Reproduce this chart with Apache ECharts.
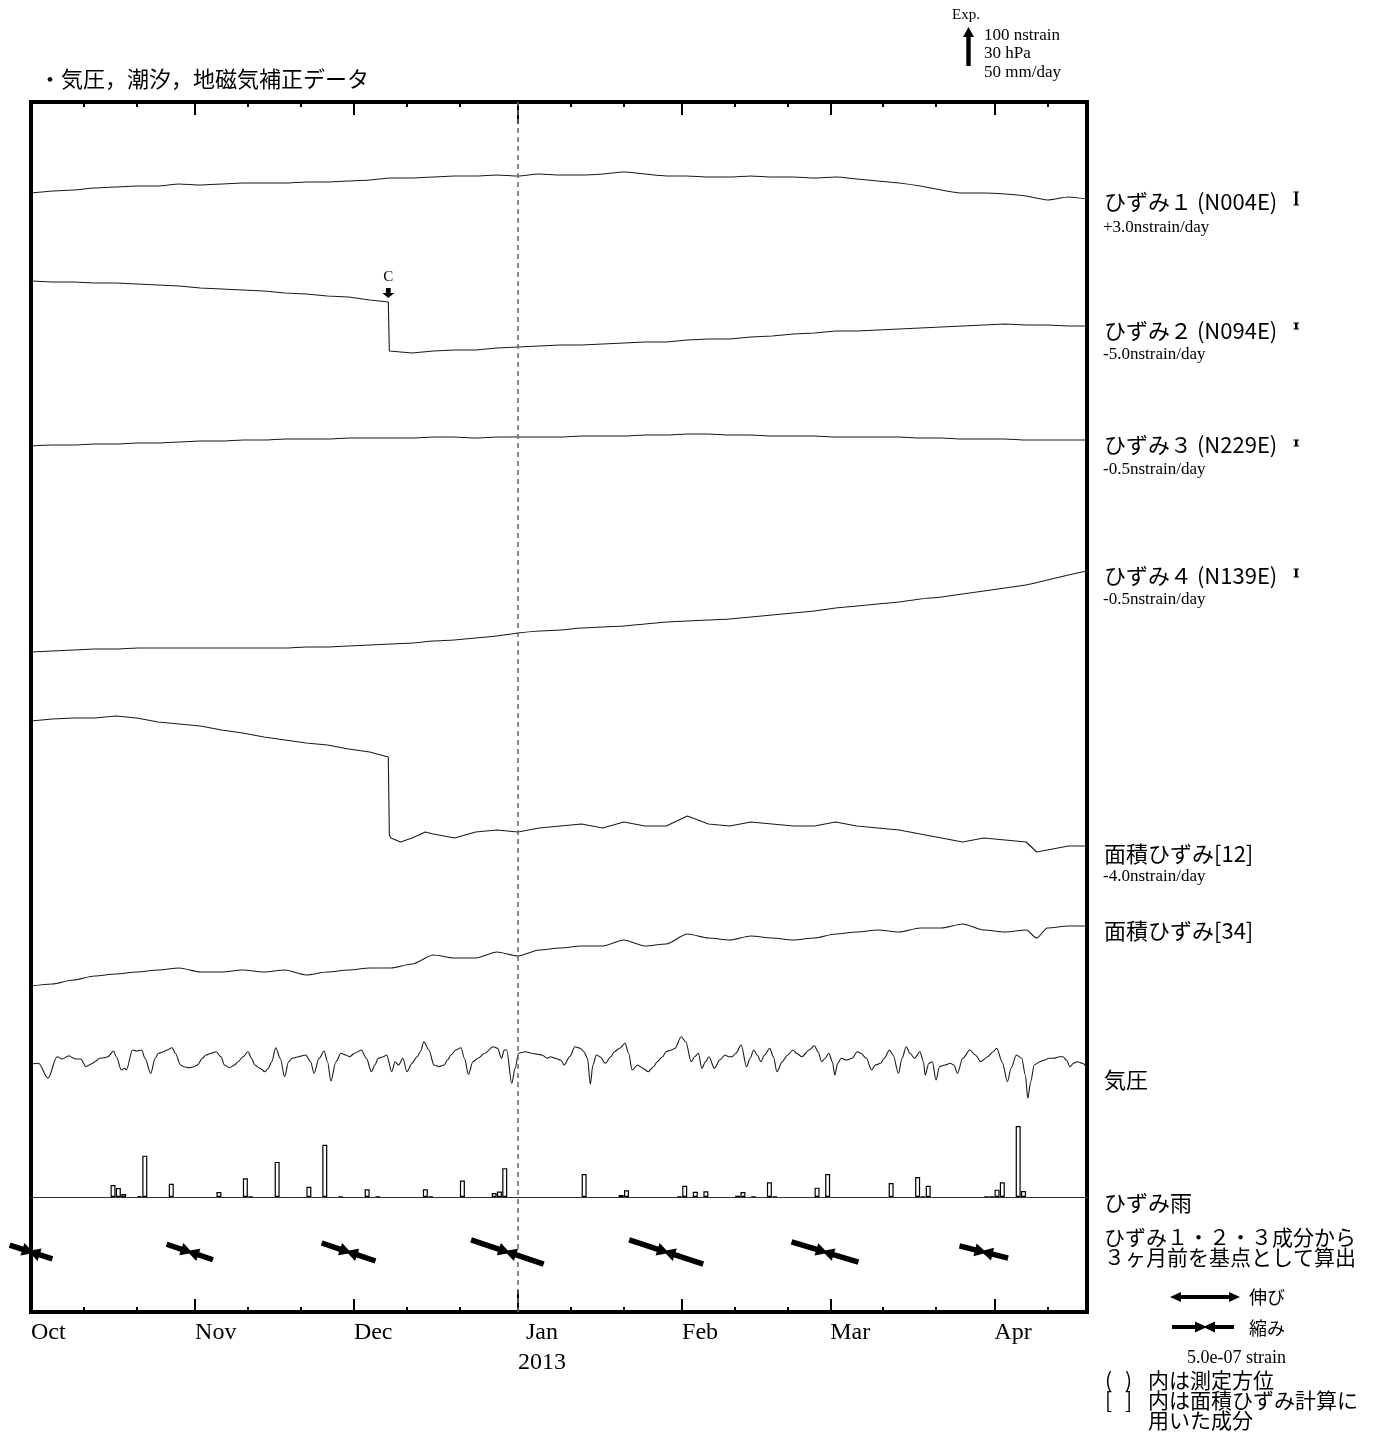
<!DOCTYPE html>
<html><head><meta charset="utf-8">
<script src="https://cdn.jsdelivr.net/npm/echarts@6/dist/echarts.min.js"></script>
<style>html,body{margin:0;padding:0;background:#fff}#c{width:1378px;height:1436px}</style>
</head><body><div id="c"></div>
<script>
// ---- axis definitions (day 0 = 2012-10-01) ----
const monthDays = [0, 31, 61, 92, 123, 151, 182];
const monthNames = ['Oct', 'Nov', 'Dec', 'Jan', 'Feb', 'Mar', 'Apr'];
const minorDays = [10, 20, 41, 51, 71, 81, 102, 112, 133, 143, 161, 171, 192];
const yearDays = [92];
const yearLabel = '2013';

// ---- strain traces: [day, relative level] ----
const strain1 = [[0,0],[4,2],[8,3],[12,5],[16,6],[20,7],[24,7],[28,9],[32,8],[36,9],[40,10],[44,10],[48,10],[52,11],[56,11],[60,12],[64,13],[68,15],[72,15],[76,16],[80,17],[84,17],[88,18],[92,17],[96,19],[100,18],[104,18],[108,19],[112,21],[116,19],[120,17],[124,17],[128,16],[132,16],[136,17],[140,16],[144,16],[148,15],[152,16],[156,14],[160,12],[164,10],[168,7],[172,3],[176,0],[180,0],[184,-1],[188,-3],[192,-7],[196,-4],[199.5,-6]];
const strain2 = [[0,0],[4,-1],[8,-1],[12,-2],[16,-2],[20,-3],[24,-4],[28,-5],[32,-7],[36,-8],[40,-9],[44,-10],[48,-12],[52,-13],[56,-15],[60,-16],[64,-19],[67.5,-21],[67.7,-70],[68,-72],[72,-72],[76,-70],[80,-69],[84,-69],[88,-67],[92,-66],[96,-65],[100,-64],[104,-64],[108,-63],[112,-62],[116,-61],[120,-61],[124,-59],[128,-58],[132,-58],[136,-56],[140,-55],[144,-53],[148,-52],[152,-50],[156,-50],[160,-49],[164,-48],[168,-47],[172,-46],[176,-45],[180,-44],[184,-43],[188,-44],[192,-44],[196,-45],[199.5,-45]];
const strain3 = [[0,0],[4,1],[8,1],[12,2],[16,2],[20,3],[24,3],[28,4],[32,5],[36,5],[40,6],[44,6],[48,7],[52,7],[56,7],[60,8],[64,8],[68,8],[72,8],[76,9],[80,9],[84,8],[88,9],[92,9],[96,9],[100,9],[104,10],[108,10],[112,10],[116,11],[120,11],[124,12],[128,12],[132,11],[136,11],[140,10],[144,10],[148,10],[152,9],[156,9],[160,9],[164,9],[168,8],[172,8],[176,7],[180,7],[184,7],[188,6],[192,6],[196,6],[199.5,6]];
const strain4 = [[0,0],[4,1],[8,2],[12,3],[16,3],[20,4],[24,4],[28,4],[32,4],[36,4],[40,4],[44,4],[48,4],[52,5],[56,5],[60,6],[64,7],[68,8],[72,9],[76,11],[80,12],[84,14],[88,16],[92,19],[96,21],[100,22],[104,24],[108,25],[112,26],[116,28],[120,30],[124,31],[128,32],[132,33],[136,35],[140,37],[144,39],[148,41],[152,44],[156,46],[160,48],[164,50],[168,53],[172,55],[176,58],[180,61],[184,64],[188,67],[192,72],[196,77],[199.5,81]];
const areal12 = [[0,0],[4,2],[8,3],[12,3],[16,5],[20,3],[24,-1],[28,-3],[32,-5],[36,-9],[40,-12],[44,-16],[48,-19],[52,-22],[56,-24],[60,-28],[64,-31],[67.5,-36],[67.7,-114],[68,-117],[69.8,-121],[72,-117],[74.5,-111],[76,-113],[80,-117],[84,-111],[88,-109],[92,-111],[96,-107],[100,-105],[104,-103],[108,-107],[112,-101],[116,-105],[120,-105],[124,-95],[128,-103],[132,-105],[136,-101],[140,-103],[144,-105],[148,-105],[152,-101],[156,-105],[160,-107],[164,-109],[168,-113],[172,-117],[176,-121],[180,-117],[184,-119],[188,-121],[190,-131],[192,-129],[196,-125],[199.5,-125]];
const areal34 = [[0,0],[4,2],[8,6],[12,10],[16,12],[20,14],[24,16],[28,18],[32,14],[36,14],[40,16],[44,14],[48,16],[52,11],[56,14],[60,16],[64,18],[68,18],[72,22],[76,31],[80,28],[84,28],[88,34],[92,30],[96,36],[100,38],[104,40],[108,40],[112,46],[116,40],[120,42],[124,52],[128,48],[132,46],[136,50],[140,48],[144,46],[148,48],[152,52],[156,54],[160,56],[164,54],[168,58],[172,58],[176,62],[180,56],[184,54],[188,56],[190,48],[192,58],[196,60],[199.5,60]];

// ---- air pressure: [day, relative level] ----
const pressure = [[0,-5],[1.42,-4.3],[3.21,-19.3],[4.93,2.3],[5.89,0],[7.17,3.3],[7.81,1.3],[8.44,0],[9.4,0],[10.36,-7.7],[11,-6],[11.64,-4.3],[12.27,-2],[12.91,0.7],[13.87,1.3],[14.51,2.3],[15.6,8],[16.11,2.3],[17.07,-11],[17.7,-9.3],[18.02,-11],[19.17,9],[19.94,8],[20.9,9],[21.54,0.7],[22.62,-14.3],[23.45,0.7],[24.09,5.7],[25.05,7.3],[25.69,9],[26.64,11.3],[27.28,5.7],[28.24,-6],[28.88,-7.7],[29.84,-8.7],[30.8,-7.7],[31.43,-6],[32.39,0.7],[33.03,4],[33.99,5.7],[34.94,7.3],[35.9,2.3],[36.54,-6],[37.5,-8.7],[38.46,-6],[39.1,-2.7],[40.05,2.3],[41.01,7.3],[41.65,0.7],[42.29,-6],[43.25,-9.3],[44.2,-12.7],[44.84,-9.3],[45.48,-2.7],[46.25,11.3],[47.08,0.7],[47.91,-17.7],[48.67,-2.7],[49.31,0.7],[50.59,2.3],[51.87,4],[52.83,-2.7],[53.46,-14.3],[54.42,0.7],[55.38,8],[56.02,-2.7],[56.66,-22],[57.61,-2.7],[58.57,5.7],[59.53,4],[60.17,2.3],[61.13,5.7],[62.4,9],[63.36,0.7],[64.32,-12.7],[64.96,-6],[65.6,0.7],[66.55,2.3],[67.19,4],[68.15,-12.7],[68.79,-2.7],[69.43,-6],[70.26,0.7],[71.02,-12.7],[71.98,-4.3],[72.94,2.3],[73.58,7.3],[74.22,17.3],[75.17,9],[76.13,-6],[77.09,-7.7],[78.05,-6],[78.69,-1],[79.33,4],[80.28,9],[81.24,11.3],[81.88,0.7],[82.65,-15.3],[83.48,-2.7],[84.43,0.7],[85.71,5.7],[87.31,12.3],[88.14,10.7],[88.9,0.7],[89.41,9],[89.86,9],[90.82,-24.3],[91.46,-9.3],[92.1,5.7],[93.37,7.3],[94.65,5.7],[95.61,4.7],[96.57,4],[97.52,0.7],[98.16,2.3],[99.06,0.7],[100.07,-1],[100.74,-6],[101.76,2.3],[102.77,12.3],[103.78,10.7],[104.46,7.3],[105.13,0.7],[105.67,-25.3],[106.15,-6],[106.82,4],[107.5,2.3],[108.51,-4.3],[109.52,2.3],[110.2,7.3],[111.21,10.7],[112.22,15.7],[112.9,5.7],[113.57,-11],[114.59,-6],[115.6,-9.3],[116.61,-12.7],[117.62,-7.7],[118.3,-2.7],[119.31,2.3],[119.99,7.3],[121,9],[121.68,10.7],[122.83,22.3],[123.7,17.3],[124.72,-2.7],[125.39,2.3],[126.07,5.7],[126.74,-9.3],[127.42,-2.7],[128.09,2.3],[129.1,-9.3],[130.12,-1],[131.13,4],[131.8,2.3],[132.48,2.3],[133.15,5.7],[134.17,14],[135.18,-7.7],[135.86,0.7],[136.53,9],[137.21,4],[137.88,-2.7],[138.56,4],[139.57,10.7],[140.25,2.3],[140.92,-12.7],[141.93,-2.7],[142.95,4],[143.96,9],[144.63,5.7],[145.65,2.3],[146.99,9],[148,13.3],[148.69,7.3],[149.36,-2.7],[150.04,0.7],[150.71,5.7],[151.39,-2.7],[151.86,-16],[152.4,-4.3],[153.07,0.7],[154.09,-1],[155.1,0.7],[156.11,7.3],[156.79,5.7],[157.8,0.7],[158.81,-11],[159.49,-6],[160.5,-4.3],[161.18,0.7],[162.19,9],[162.86,4],[163.88,-14.3],[164.55,0.7],[165.36,12.3],[166.04,5.7],[166.92,0.7],[167.93,7.3],[168.6,-2.7],[168.94,-16],[169.62,-4.3],[170.29,-2.7],[170.97,-21],[171.64,-7.7],[172.66,-6],[173.67,-4.3],[174.35,-6],[175.02,-14.3],[176.03,0.7],[177.38,9],[178.4,4],[179.41,-2.7],[180.76,2.3],[181.77,7.3],[182.45,10.7],[183.46,-2.7],[184.47,-22.7],[185.15,-9.3],[186.16,4],[187.17,0.7],[187.85,-16],[188.32,-39.3],[188.86,-22.7],[189.53,-6],[190.55,-2.7],[191.56,-1],[192.24,0.7],[193.25,0.7],[194.26,2.3],[194.94,2.3],[195.61,-1],[196.29,-7.7],[196.96,-4.3],[197.64,-2.7],[198.65,-4.3],[199.5,-9.3]];

// ---- daily rainfall (mm/day) ----
const rainDays = [15,16,17,20,21,26,35,40,41,46,52,55,58,63,65,74,75,81,87,88,89,104,111,112,122,123,125,127,133,134,136,139,140,148,150,162,167,168,169,180,181,182,183,186,187];
const rainMM   = [15.4,11.5,3.8,1.3,53,17,6.4,24,0.6,45,13,67,0.6,10,0.6,10,0.6,21,5,7,37,29.5,2.6,8.5,0.6,14.5,6.8,7.3,1.7,6.4,0.6,18.8,0.6,12,29.5,18,25.6,0.6,14.5,0.6,0.6,9.4,18.8,91,7.7];

// ---- principal strain arrows (every 30 days from 2012-10-01) ----
const arrowDays = [0, 30, 60, 90, 120, 150, 180];
const arrowStrain = [3.4, 3.7, 4.3, 5.8, 5.9, 5.3, 3.8];       // x 1e-7 (compression)
const arrowAzimuth = [108, 108.5, 108.5, 108.5, 108, 107, 104]; // degrees from N

// ---- layout / style constants ----
const XMAX = 199.5;
const G = { left: 31, top: 102, width: 1056, height: 1210 };
const LEVEL = { s1: 1119, s2: 1031, s3: 866, s4: 660, a12: 591, a34: 326, p: 253, arrows: 60 };
const PX_PER_STRAIN = 13.2; // px per 1e-7 strain (legend: 5.0e-07 = 66px)
const JP = '"Noto Sans CJK JP", "Noto Sans", sans-serif';
const SERIF = '"Liberation Serif", "Times New Roman", serif';

const shift = (arr, off) => arr.map(p => [p[0], p[1] + off]);

function tickAxis(pos, values, len, label) {
  return {
    type: 'value', gridIndex: 0, min: 0, max: XMAX, position: pos,
    axisLine: { show: false }, splitLine: { show: false },
    axisTick: { show: true, inside: true, length: len, customValues: values, lineStyle: { color: '#000', width: 2 } },
    axisLabel: label || { show: false }
  };
}
const monthLabel = {
  show: true, customValues: monthDays, showMinLabel: true, showMaxLabel: true,
  margin: 6, align: 'left', color: '#000', fontFamily: SERIF, fontSize: 24, lineHeight: 30,
  formatter: v => {
    const i = monthDays.indexOf(v);
    if (i < 0) return '';
    if (yearDays.indexOf(v) >= 0) return '{c|' + monthNames[i] + '}\n{c|' + yearLabel + '}';
    return monthNames[i];
  },
  rich: { c: { align: 'center', fontFamily: SERIF, fontSize: 24, lineHeight: 30, color: '#000' } }
};
const monthTickDays = monthDays.filter(d => d > 0 && yearDays.indexOf(d) < 0);

const lineStyle = { color: '#1a1a1a', width: 1.1 };
function trace(name, arr, off, extra) {
  return Object.assign({
    name, type: 'line', xAxisIndex: 0, yAxisIndex: 0, data: shift(arr, off),
    showSymbol: false, symbol: 'none', lineStyle, silent: true, animation: false, z: 3
  }, extra || {});
}

// find step point of strain2 for the "C" marker
let stepIdx = 0, maxDrop = 0;
for (let i = 1; i < strain2.length; i++) {
  const d = strain2[i - 1][1] - strain2[i][1];
  if (d > maxDrop) { maxDrop = d; stepIdx = i - 1; }
}

const series = [
  trace('ひずみ1', strain1, LEVEL.s1, {
    smooth: 0.2,
    markLine: {
      silent: true, symbol: ['none', 'none'], label: { show: false }, animation: false,
      lineStyle: { type: [5, 4], color: '#666', width: 1.5 },
      data: yearDays.map(d => ({ xAxis: d }))
    }
  }),
  trace('ひずみ2', strain2, LEVEL.s2, {
    markPoint: {
      silent: true, animation: false,
      data: [{
        coord: [strain2[stepIdx][0], strain2[stepIdx][1] + LEVEL.s2],
        symbol: 'path://M3,0 L7,0 L7,5 L10,5 L5,10 L0,5 L3,5 Z', symbolSize: [12, 10], symbolOffset: [0, -9],
        itemStyle: { color: '#000' },
        label: { show: true, formatter: 'C', position: 'top', distance: 3, color: '#000', fontFamily: SERIF, fontSize: 15 }
      }]
    }
  }),
  trace('ひずみ3', strain3, LEVEL.s3, { smooth: 0.2 }),
  trace('ひずみ4', strain4, LEVEL.s4, { smooth: 0.2 }),
  trace('面積ひずみ[12]', areal12, LEVEL.a12),
  trace('面積ひずみ[34]', areal34, LEVEL.a34, { smooth: 0.25, smoothMonotone: 'x' }),
  trace('気圧', pressure, LEVEL.p, { smooth: 0.3, smoothMonotone: 'x' }),
  {
    name: '雨', type: 'bar', xAxisIndex: 6, yAxisIndex: 1, barWidth: 5, silent: true, animation: false,
    data: rainDays.map((d, i) => [d + 0.5, rainMM[i]]),
    itemStyle: { color: '#fff', borderColor: '#000', borderWidth: 1.2 }
  },
  {
    name: 'arrows', type: 'custom', xAxisIndex: 0, yAxisIndex: 0, silent: true, animation: false, clip: false, z: 5,
    data: arrowDays.map((d, i) => [d, arrowStrain[i], arrowAzimuth[i]]),
    encode: { x: 0 },
    renderItem: (params, api) => {
      const c = api.coord([api.value(0), LEVEL.arrows]);
      const len = api.value(1) * PX_PER_STRAIN;
      const az = api.value(2) * Math.PI / 180;
      const ux = Math.sin(az), uy = -Math.cos(az);
      const nx = -uy, ny = ux;
      const h = len / 2, over = 3, hl = 12, hw = 6.5;
      const p1 = [c[0] - ux * h, c[1] - uy * h], p2 = [c[0] + ux * h, c[1] + uy * h];
      const t1 = [c[0] + ux * over, c[1] + uy * over], b1 = [t1[0] - ux * hl, t1[1] - uy * hl];
      const t2 = [c[0] - ux * over, c[1] - uy * over], b2 = [t2[0] + ux * hl, t2[1] + uy * hl];
      const st = { stroke: '#000', lineWidth: 5.5 };
      return {
        type: 'group', children: [
          { type: 'line', shape: { x1: p1[0], y1: p1[1], x2: b1[0] + ux * 2, y2: b1[1] + uy * 2 }, style: st },
          { type: 'line', shape: { x1: p2[0], y1: p2[1], x2: b2[0] - ux * 2, y2: b2[1] - uy * 2 }, style: st },
          { type: 'polygon', shape: { points: [t1, [b1[0] + nx * hw, b1[1] + ny * hw], [b1[0] - nx * hw, b1[1] - ny * hw]] }, style: { fill: '#000' } },
          { type: 'polygon', shape: { points: [t2, [b2[0] + nx * hw, b2[1] + ny * hw], [b2[0] - nx * hw, b2[1] - ny * hw]] }, style: { fill: '#000' } }
        ]
      };
    }
  }
];

// ---- text / legend decorations ----
function txt(text, x, y, font, align) {
  return { type: 'text', silent: true, style: { text, x, y, font, fill: '#000', align: align || 'left', verticalAlign: 'middle' } };
}
function imark(x, y1, y2) {
  return { type: 'group', silent: true, children: [
    { type: 'rect', shape: { x: x - 1, y: y1, width: 2.5, height: y2 - y1 }, style: { fill: '#000' } },
    { type: 'line', shape: { x1: x - 2.5, y1: y1, x2: x + 3, y2: y1 }, style: { stroke: '#000', lineWidth: 1 } },
    { type: 'line', shape: { x1: x - 2.5, y1: y2, x2: x + 3, y2: y2 }, style: { stroke: '#000', lineWidth: 1 } }
  ] };
}
const F22 = '22px ' + JP, F21 = '21px ' + JP, FS = '17px ' + SERIF;
const graphic = [
  txt('・気圧，潮汐，地磁気補正データ', 39, 79, '22px ' + JP),
  txt('Exp.', 952, 15, '15px ' + SERIF),
  { type: 'polygon', silent: true, shape: { points: [[968.5, 27], [974, 37], [970.7, 37], [970.7, 66], [966.3, 66], [966.3, 37], [963, 37]] }, style: { fill: '#000' } },
  txt('100 nstrain', 984, 36, '17px ' + SERIF),
  txt('30 hPa', 984, 54, '17px ' + SERIF),
  txt('50 mm/day', 984, 73, '17px ' + SERIF),
  txt('ひずみ１ (N004E)', 1104, 202, F22), txt('+3.0nstrain/day', 1103, 228, FS), imark(1296, 192, 205),
  txt('ひずみ２ (N094E)', 1104, 331, F22), txt('-5.0nstrain/day', 1103, 355, FS), imark(1296, 323, 329),
  txt('ひずみ３ (N229E)', 1104, 445, F22), txt('-0.5nstrain/day', 1103, 470, FS), imark(1296, 440, 446),
  txt('ひずみ４ (N139E)', 1104, 576, F22), txt('-0.5nstrain/day', 1103, 600, FS), imark(1296, 569, 577),
  txt('面積ひずみ[12]', 1104, 854, F22), txt('-4.0nstrain/day', 1103, 877, FS),
  txt('面積ひずみ[34]', 1104, 931, F22),
  txt('気圧', 1104, 1080, F22),
  txt('ひずみ雨', 1104, 1203, F22),
  txt('ひずみ１・２・３成分から', 1104, 1237, F21),
  txt('３ヶ月前を基点として算出', 1104, 1257, F21),
  { type: 'line', silent: true, shape: { x1: 1178, y1: 1297, x2: 1232, y2: 1297 }, style: { stroke: '#000', lineWidth: 4 } },
  { type: 'polygon', silent: true, shape: { points: [[1170, 1297], [1181, 1292], [1181, 1302]] }, style: { fill: '#000' } },
  { type: 'polygon', silent: true, shape: { points: [[1240, 1297], [1229, 1292], [1229, 1302]] }, style: { fill: '#000' } },
  txt('伸び', 1249, 1297, '18px ' + JP),
  { type: 'line', silent: true, shape: { x1: 1172, y1: 1327, x2: 1197, y2: 1327 }, style: { stroke: '#000', lineWidth: 4 } },
  { type: 'line', silent: true, shape: { x1: 1214, y1: 1327, x2: 1234, y2: 1327 }, style: { stroke: '#000', lineWidth: 4 } },
  { type: 'polygon', silent: true, shape: { points: [[1207, 1327], [1195, 1321.5], [1195, 1332.5]] }, style: { fill: '#000' } },
  { type: 'polygon', silent: true, shape: { points: [[1203, 1327], [1215, 1321.5], [1215, 1332.5]] }, style: { fill: '#000' } },
  txt('縮み', 1249, 1328, '18px ' + JP),
  txt('5.0e-07 strain', 1187, 1358, '18px ' + SERIF),
  txt('(', 1105, 1380, F21), txt(')', 1125, 1380, F21), txt('内は測定方位', 1148, 1380, F21),
  txt('[', 1105, 1400, F21), txt(']', 1125, 1400, F21), txt('内は面積ひずみ計算に', 1148, 1400, F21),
  txt('用いた成分', 1148, 1420, F21)
];

const chart = echarts.init(document.getElementById('c'), null, { renderer: 'canvas' });
chart.setOption({
  animation: false,
  backgroundColor: '#fff',
  grid: [
    Object.assign({ show: true, borderWidth: 4, borderColor: '#000', backgroundColor: 'transparent', outerBoundsMode: 'none', containLabel: false }, G),
    { left: G.left, width: G.width, top: 1080, height: 117, show: false, outerBoundsMode: 'none', containLabel: false }
  ],
  xAxis: [
    tickAxis('bottom', minorDays, 5),
    tickAxis('bottom', monthTickDays, 13, monthLabel),
    tickAxis('bottom', yearDays, 22),
    tickAxis('top', minorDays, 5),
    tickAxis('top', monthTickDays, 13),
    tickAxis('top', yearDays, 22),
    { type: 'value', gridIndex: 1, min: 0, max: XMAX, axisLine: { show: true, onZero: false, lineStyle: { color: '#333', width: 1 } },
      axisTick: { show: false }, axisLabel: { show: false }, splitLine: { show: false } }
  ],
  yAxis: [
    { type: 'value', gridIndex: 0, min: 0, max: G.height, show: false },
    { type: 'value', gridIndex: 1, min: 0, max: 150, show: false }
  ],
  series,
  graphic
});
</script>
</body></html>
